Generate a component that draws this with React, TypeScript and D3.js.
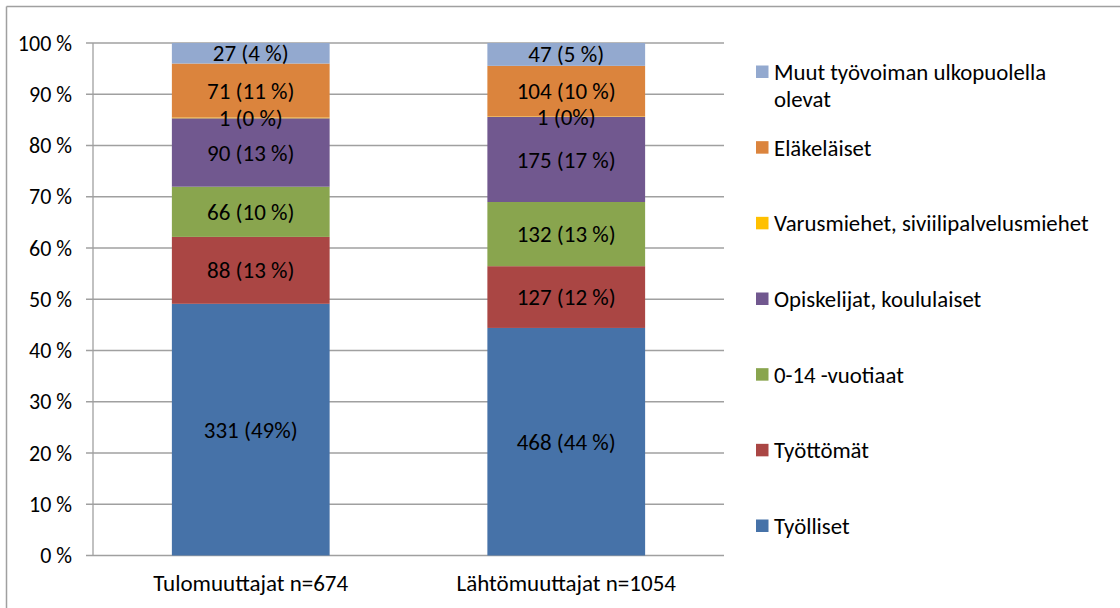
import React from "react";
import * as d3 from "d3";

const categories = ["Tulomuuttajat n=674", "Lähtömuuttajat n=1054"];
const seriesNames = [
  "Työlliset",
  "Työttömät",
  "0-14 -vuotiaat",
  "Opiskelijat, koululaiset",
  "Varusmiehet, siviilipalvelusmiehet",
  "Eläkeläiset",
  "Muut työvoiman ulkopuolella olevat",
];
const seriesColors = ["#4672A8", "#AA4644", "#89A54E", "#71588F", "#FFC000", "#DB843D", "#93A9CF"];
const tuloValues = [331, 88, 66, 90, 1, 71, 27];
const lahtoValues = [468, 127, 132, 175, 1, 104, 47];
const tuloLabels = ["331 (49%)", "88 (13 %)", "66 (10 %)", "90 (13 %)", "1 (0 %)", "71 (11 %)", "27 (4 %)"];
const lahtoLabels = ["468 (44 %)", "127 (12 %)", "132 (13 %)", "175 (17 %)", "1 (0%)", "104 (10 %)", "47 (5 %)"];
const yTicks = [0, 10, 20, 30, 40, 50, 60, 70, 80, 90, 100];
const legendLines = [
  ["Työlliset"],
  ["Työttömät"],
  ["0-14 -vuotiaat"],
  ["Opiskelijat, koululaiset"],
  ["Varusmiehet, siviilipalvelusmiehet"],
  ["Eläkeläiset"],
  ["Muut työvoiman ulkopuolella", "olevat"],
];

const FONT = "Carlito, Calibri, Lato, sans-serif";

export default function App() {
  const W = 1120, H = 608;
  const left = 93, right = 724, top = 43, bottom = 555.5;
  const x = d3.scaleBand().domain(categories).range([left, right]).paddingInner(0.5).paddingOuter(0.25);
  const y = d3.scaleLinear().domain([0, 100]).range([bottom, top]);

  const rows = [tuloValues, lahtoValues].map((vals, ci) => {
    const total = d3.sum(vals);
    const obj: any = { cat: categories[ci] };
    vals.forEach((v, i) => (obj[seriesNames[i]] = (v / total) * 100));
    return obj;
  });
  const stack = d3.stack().keys(seriesNames)(rows);
  const labels = [tuloLabels, lahtoLabels];

  const legendY = d3.scaleLinear().domain([0, 6]).range([526, 72]);

  return (
    <svg width={W} height={H} style={{ position: "absolute", left: 0, top: 0, background: "#fff" }} fontFamily={FONT}>
      <rect x={0} y={0} width={W} height={H} fill="#fff" />
      <line x1={6.5} y1={6.5} x2={W} y2={6.5} stroke="#a0a0a0" strokeWidth={1.5} />
      <line x1={6.5} y1={6.5} x2={6.5} y2={H} stroke="#a0a0a0" strokeWidth={1.5} />
      {yTicks.map((t) => (
        <g key={t}>
          <line x1={86} x2={right} y1={y(t)} y2={y(t)} stroke="#a0a0a0" strokeWidth={1.3} />
          <text x={72} y={y(t)} dy="0.35em" textAnchor="end" fontSize={22} fill="#000">
            {t} %
          </text>
        </g>
      ))}
      <line x1={left} x2={left} y1={top} y2={bottom} stroke="#a0a0a0" strokeWidth={1.3} />
      {stack.map((s, si) => (
        <g key={s.key}>
          {s.map((d: any, ci: number) => (
            <rect
              key={ci}
              x={x(d.data.cat)}
              width={x.bandwidth()}
              y={y(d[1])}
              height={y(d[0]) - y(d[1])}
              fill={seriesColors[si]}
            />
          ))}
        </g>
      ))}
      {stack.map((s, si) => (
        <g key={"l" + s.key}>
          {s.map((d: any, ci: number) => (
            <text
              key={ci}
              x={(x(d.data.cat) as number) + x.bandwidth() / 2}
              y={y((d[0] + d[1]) / 2)}
              dy="0.35em"
              textAnchor="middle"
              fontSize={23}
              fill="#000"
            >
              {labels[ci][si]}
            </text>
          ))}
        </g>
      ))}
      {categories.map((c) => (
        <text key={c} x={(x(c) as number) + x.bandwidth() / 2} y={583} dy="0.35em" textAnchor="middle" fontSize={23} fill="#000">
          {c}
        </text>
      ))}
      {legendLines.map((lines, i) => (
        <g key={i}>
          <rect x={756} y={legendY(i) - 6.5} width={12.5} height={12.5} fill={seriesColors[i]} />
          {lines.map((ln, li) => (
            <text key={li} x={774} y={legendY(i) + li * 27} dy="0.35em" fontSize={22.8} fill="#000">
              {ln}
            </text>
          ))}
        </g>
      ))}
    </svg>
  );
}
